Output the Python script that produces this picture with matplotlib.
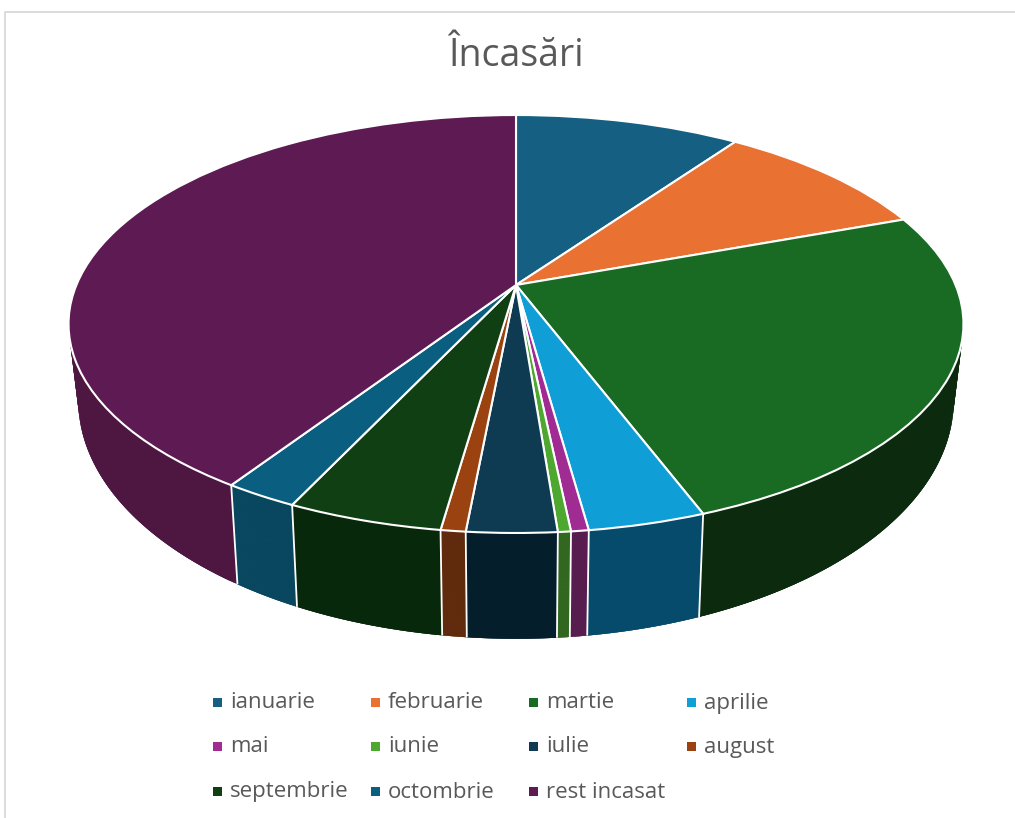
import numpy as np
import matplotlib
matplotlib.use("Agg")
import matplotlib.pyplot as plt
from matplotlib.collections import PolyCollection
from matplotlib.lines import Line2D
from matplotlib.patches import Rectangle
from matplotlib.transforms import Transform

# ---- data ----
title = "Încasări"
months = ["ianuarie", "februarie", "martie", "aprilie", "mai", "iunie",
          "iulie", "august", "septembrie", "octombrie", "rest incasat"]
values = [9.75, 9.64, 24.9, 3.56, 0.53, 0.39, 2.72, 0.75, 4.72, 2.25, 40.8]
top_colors = ["#156082", "#E97132", "#196B24", "#0F9ED5", "#A02B93", "#4EA72E",
              "#0E3A52", "#9A4210", "#113F14", "#0A5F80", "#5E1A52"]
side_colors = ["#0C3A4E", "#8C441E", "#0B2A0E", "#064A6C", "#55184C", "#2F661C",
               "#041E2C", "#5E2608", "#08280B", "#06465E", "#4E1742"]

TEXT_GREY = "#595959"
K = 0.1866


class TiltProjection(Transform):
    """Perspective view of a flat disc of radius 1, into pixel coordinates."""
    input_dims = 2
    output_dims = 2
    is_separable = False
    has_inverse = False

    def __init__(self, cx, cy, a, b):
        super().__init__()
        self.cx, self.cy, self.a, self.b = cx, cy, a, b

    def transform_non_affine(self, xy):
        xy = np.asarray(xy, dtype=float)
        w = 1 + K * xy[:, 1]
        return np.column_stack([self.cx + self.a * xy[:, 0] / w,
                                self.cy - self.b * xy[:, 1] / w])


fig = plt.figure(figsize=(10.15, 8.18), dpi=100, facecolor="white")
ax = fig.add_axes([0, 0, 1, 1])

top_plane = TiltProjection(516, 285, 439.6, 201.7)
bottom_plane = TiltProjection(516, 356, 430, 230)

wedges, _ = ax.pie(values, startangle=90, counterclock=False, colors=top_colors,
                   wedgeprops=dict(edgecolor="white", linewidth=1.5), radius=1)
ax.set_aspect("auto")
ax.set_xlim(0, 1015)
ax.set_ylim(818, 0)
ax.axis("off")
for w in wedges:
    w.set_transform(top_plane + ax.transData)
    w.set_zorder(5)

# side wall: each slice is swept from the top rim down to the bottom rim;
# the strips overlap so no seams appear between them
edges = np.concatenate([[0], np.cumsum(values)]) / np.sum(values) * 2 * np.pi


def ring(plane, t):
    return plane.transform_non_affine(np.column_stack([np.sin(t), np.cos(t)]))


for i, col in enumerate(side_colors):
    t = np.linspace(edges[i], edges[i + 1], 300)
    upper = ring(top_plane, t)
    lower = ring(bottom_plane, t)
    n = len(t)
    quads = [np.vstack([upper[j], upper[min(j + 3, n - 1)],
                        lower[min(j + 3, n - 1)], lower[j]])
             for j in range(n - 1)]
    ax.add_collection(PolyCollection(quads, facecolors=col, edgecolors="none",
                                     zorder=2))
for e in edges[3:12]:
    u = ring(top_plane, np.array([e]))[0]
    l = ring(bottom_plane, np.array([e]))[0]
    ax.plot([u[0], l[0]], [u[1], l[1]], color="white", lw=1.3, zorder=3,
            solid_capstyle="butt")

# chart frame
ax.add_line(Line2D([5.5, 5.5, 1015], [818, 11.5, 11.5], color="#D9D9D9", lw=1.3))

ax.text(517, 56, title, ha="center", va="center", fontsize=27,
        family="Open Sans", color=TEXT_GREY)

# legend laid out on a 4-column grid
col_x = [218, 376, 534, 692]
row_y = [702, 746, 791]
for i, (name, col) in enumerate(zip(months, top_colors)):
    r, c = divmod(i, 4)
    ax.add_patch(Rectangle((col_x[c] - 4.5, row_y[r] - 4.5), 9, 9, facecolor=col,
                           edgecolor="none"))
    ax.text(col_x[c] + 12, row_y[r] + 1, name, ha="left", va="center", fontsize=16,
            family="Open Sans", color=TEXT_GREY)

fig.savefig("out.png", dpi=100, facecolor="white")
